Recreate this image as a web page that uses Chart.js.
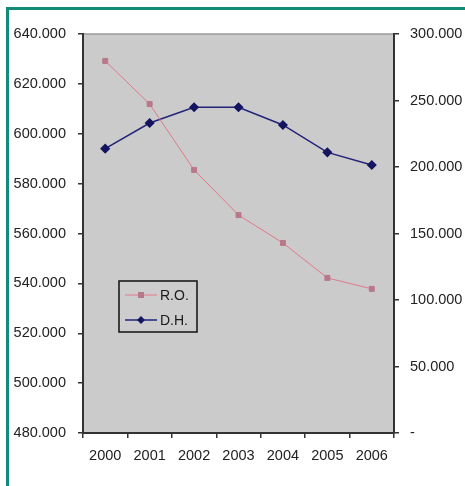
<!DOCTYPE html>
<html>
<head>
<meta charset="utf-8">
<script src="https://cdn.jsdelivr.net/npm/chart.js@4.4.1/dist/chart.umd.min.js"></script>
<style>
  html, body { margin: 0; padding: 0; background: #fff; }
  #wrap { width: 465px; height: 486px; position: relative; }
</style>
</head>
<body>
<div id="wrap"><canvas id="c"></canvas></div>
<script>
// categories (years)
var anni = ['2000', '2001', '2002', '2003', '2004', '2005', '2006'];

// R.O. -> left axis
var ro = [629200, 611900, 585500, 567400, 556200, 542200, 537800];
// D.H. -> right axis
var dh = [213800, 233100, 244900, 244900, 231600, 211000, 201500];

// axis ranges
var sxMin = 480000, sxMax = 640000, sxStep = 20000;
var dxMin = 0, dxMax = 300000, dxStep = 50000;

var FONT = 'Liberation Sans, Arial, sans-serif';

function puntini(v) {
  return String(Math.round(v)).replace(/\B(?=(\d{3})+(?!\d))/g, '.');
}

// sfondo grigio del grafico + cornice verde
var sfondo = {
  id: 'sfondo',
  beforeDraw: function(chart) {
    var c = chart.ctx, a = chart.chartArea;
    c.save();
    c.fillStyle = '#ffffff';
    c.fillRect(0, 0, chart.width, chart.height);
    c.fillStyle = '#cbcbcb';
    c.fillRect(a.left, a.top, a.right - a.left, a.bottom - a.top);
    c.strokeStyle = '#9a9a9a';
    c.lineWidth = 1.5;
    c.beginPath();
    c.moveTo(a.left, a.top);
    c.lineTo(a.right, a.top);
    c.stroke();
    // cornice
    c.strokeStyle = '#138a78';
    c.lineWidth = 3;
    c.beginPath();
    c.moveTo(chart.width, 8.5);
    c.lineTo(7.5, 8.5);
    c.lineTo(7.5, chart.height);
    c.stroke();
    c.restore();
  }
};

// legenda dentro l'area del grafico
var legenda = {
  id: 'legenda',
  afterDatasetsDraw: function(chart) {
    var c = chart.ctx;
    var x = 119, y = 281, w = 78, h = 51;
    c.save();
    c.fillStyle = '#cdcdcd';
    c.fillRect(x, y, w, h);
    c.strokeStyle = '#111';
    c.lineWidth = 1.5;
    c.strokeRect(x, y, w, h);
    c.font = '14px ' + FONT;
    c.textBaseline = 'middle';
    chart.data.datasets.forEach(function(ds, i) {
      var cy = y + 14 + i * 25;
      c.strokeStyle = ds.borderColor;
      c.lineWidth = ds.borderWidth;
      c.beginPath();
      c.moveTo(x + 6, cy);
      c.lineTo(x + 38, cy);
      c.stroke();
      c.fillStyle = ds.pointBackgroundColor;
      c.beginPath();
      if (ds.pointStyle === 'rectRot') {
        c.moveTo(x + 22, cy - 4); c.lineTo(x + 26, cy); c.lineTo(x + 22, cy + 4); c.lineTo(x + 18, cy);
      } else {
        c.rect(x + 19, cy - 3, 6, 6);
      }
      c.fill();
      c.fillStyle = '#1a1a1a';
      c.fillText(ds.label, x + 41, cy + 1);
    });
    c.restore();
  }
};

new Chart(document.getElementById('c'), {
  type: 'line',
  data: {
    labels: anni,
    datasets: [{
      label: 'R.O.',
      data: ro,
      yAxisID: 'ySx',
      borderColor: '#e2788a',
      borderWidth: 1,
      pointStyle: 'rect',
      pointRadius: 3.5,
      pointBackgroundColor: '#b9788a',
      pointBorderColor: '#b9788a',
      tension: 0
    }, {
      label: 'D.H.',
      data: dh,
      yAxisID: 'yDx',
      borderColor: '#23237a',
      borderWidth: 1.5,
      pointStyle: 'rectRot',
      pointRadius: 4,
      pointBackgroundColor: '#141460',
      pointBorderColor: '#141460',
      tension: 0
    }]
  },
  options: {
    responsive: true,
    maintainAspectRatio: false,
    animation: false,
    layout: { padding: { top: 34, left: 0, right: 0, bottom: 0 } },
    plugins: {
      legend: { display: false },
      tooltip: { enabled: false }
    },
    scales: {
      x: {
        offset: true,
        grid: { offset: true, drawOnChartArea: false, tickLength: 5, color: '#333', lineWidth: 1.5 },
        border: { color: '#333', width: 2 },
        ticks: { color: '#222', font: { family: FONT, size: 14.5 }, padding: 9, maxRotation: 0 },
        afterFit: function(s) { s.height = 53; }
      },
      ySx: {
        position: 'left',
        min: sxMin, max: sxMax,
        grid: { drawOnChartArea: false, tickLength: 5, color: '#333', lineWidth: 1.5 },
        border: { color: '#333', width: 2 },
        ticks: {
          stepSize: sxStep,
          color: '#222',
          font: { family: FONT, size: 14.5 },
          padding: 12,
          callback: function(v) { return puntini(v); }
        },
        afterFit: function(s) { s.width = 83; }
      },
      yDx: {
        position: 'right',
        min: dxMin, max: dxMax,
        grid: { drawOnChartArea: false, tickLength: 5, color: '#333', lineWidth: 1.5 },
        border: { color: '#333', width: 2 },
        ticks: {
          stepSize: dxStep,
          color: '#222',
          font: { family: FONT, size: 14.5 },
          padding: 11,
          callback: function(v) { return v === 0 ? '-' : puntini(v); }
        },
        afterFit: function(s) { s.width = 71; }
      }
    }
  },
  plugins: [sfondo, legenda]
});
</script>
</body>
</html>
